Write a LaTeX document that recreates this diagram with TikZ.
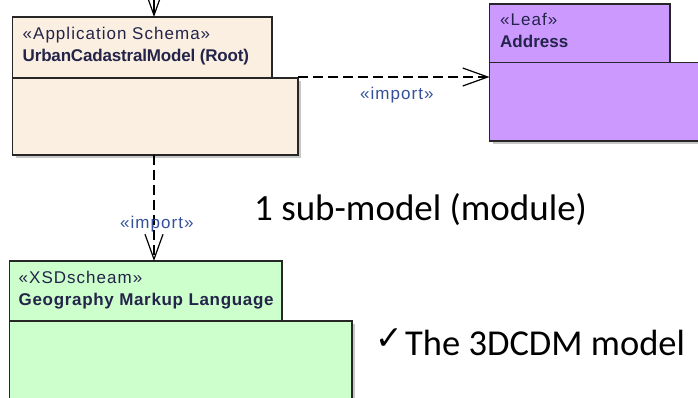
\documentclass[tikz,border=0pt]{standalone}
\usepackage{fontspec}
\setmainfont{Liberation Sans}
\newfontfamily\umlreg[LetterSpace=6]{Liberation Sans}
\newfontfamily\umlbold[LetterSpace=-1]{Liberation Sans Bold}
\newfontfamily\umlboldplain[LetterSpace=0]{Liberation Sans Bold}
\newfontfamily\umlboldwide[LetterSpace=4]{Liberation Sans Bold}
\newfontfamily\slidefont{Carlito}
\newfontfamily\symfont{DejaVu Sans}
\usetikzlibrary{arrows.meta}

\definecolor{rootfill}{HTML}{FAEFE0}
\definecolor{leaffill}{HTML}{CC99FF}
\definecolor{gmlfill}{HTML}{CCFFCC}
\definecolor{umltext}{HTML}{24244A}
\definecolor{importtext}{HTML}{34509A}

\tikzset{
  x=1pt, y=-1pt,
  pkgpart/.style={draw=black!85, line width=1.3pt, inner sep=0pt, outer sep=0pt,
    anchor=north west},
  pkgshadow/.style={fill=black!22, draw=none},
  stereo/.style={anchor=base west, inner sep=0pt, text=umltext,
    font=\umlreg\fontsize{17}{20}\selectfont},
  pkgname/.style={anchor=base west, inner sep=0pt, text=umltext,
    font=\umlboldplain\fontsize{17}{20}\selectfont},
  implabel/.style={anchor=base west, inner sep=0pt, text=importtext,
    font=\umlreg\fontsize{17}{20}\selectfont},
  openhead/.style={-{Straight Barb[length=25pt, width=18pt, line width=1.2pt]}},
  importline/.style={draw=black, line width=1.2pt, dash pattern=on 10pt off 5pt,
    openhead},
  slidetext/.style={anchor=base west, inner sep=0pt, text=black,
    font=\slidefont\fontsize{37}{40}\selectfont},
}

\begin{document}
\begin{tikzpicture}
\useasboundingbox (0,0) rectangle (698,398);
\fill[white] (0,0) rectangle (698,398);
\clip (0,0) rectangle (698,398);

% drop shadows under the package bodies
\fill[pkgshadow] (15.5,81) rectangle (301,158);
\fill[pkgshadow] (492.5,65.5) rectangle (713,144);
\fill[pkgshadow] (12.5,324) rectangle (355,400);

% package: UrbanCadastralModel (Root)
\node[pkgpart, fill=rootfill, minimum width=259.5pt, minimum height=61pt]
  (roottab) at (12.5,17) {};
\node[pkgpart, fill=rootfill, minimum width=285.5pt, minimum height=77pt]
  (rootbody) at (12.5,78) {};
\node[stereo] (rootstereo) at (22.5,40) {«Application Schema»};
\node[pkgname, font=\umlbold\fontsize{17}{20}\selectfont]
  (rootname) at (22.5,62) {UrbanCadastralModel (Root)};

% package: Address
\node[pkgpart, fill=leaffill, minimum width=180.5pt, minimum height=58.5pt]
  (addrtab) at (489.5,4) {};
\node[pkgpart, fill=leaffill, minimum width=230pt, minimum height=78.5pt]
  (addrbody) at (489.5,62.5) {};
\node[stereo] (addrstereo) at (500,26) {«Leaf»};
\node[pkgname] (addrname) at (500,48) {Address};

% package: Geography Markup Language
\node[pkgpart, fill=gmlfill, minimum width=272.5pt, minimum height=60pt]
  (gmltab) at (9.5,261) {};
\node[pkgpart, fill=gmlfill, minimum width=342.5pt, minimum height=80pt]
  (gmlbody) at (9.5,321) {};
\node[stereo] (gmlstereo) at (18.5,283) {«XSDscheam»};
\node[pkgname, font=\umlboldwide\fontsize{17}{20}\selectfont]
  (gmlname) at (18.5,305) {Geography Markup Language};

% incoming import from above the root package
\coordinate (topin) at (154,-4);
\draw[line width=1.2pt, openhead] (topin) -- (topin |- roottab.north);

% root imports Address
\coordinate (rootout) at ([yshift=1pt]rootbody.north east);
\draw[importline] (rootout) -- (rootout -| addrbody.west);
\node[implabel] (implabelA) at (360,100) {«import»};

% root imports GML
\coordinate (rootdown) at (154,155);
\draw[importline] (rootdown |- rootbody.south) -- (rootdown |- gmltab.north);
\node[implabel] (implabelB) at (120,228) {«import»};

% slide annotations
\node[slidetext] (submodel) at (254,220) {1 sub-model (module)};
\node[anchor=base west, inner sep=0pt, font=\symfont\fontsize{33}{34}\selectfont]
  (tick) at (375,349) {✓};
\node[slidetext, font=\slidefont\fontsize{36.5}{40}\selectfont]
  (model3d) at (405,355) {The 3DCDM model};
\end{tikzpicture}
\end{document}
